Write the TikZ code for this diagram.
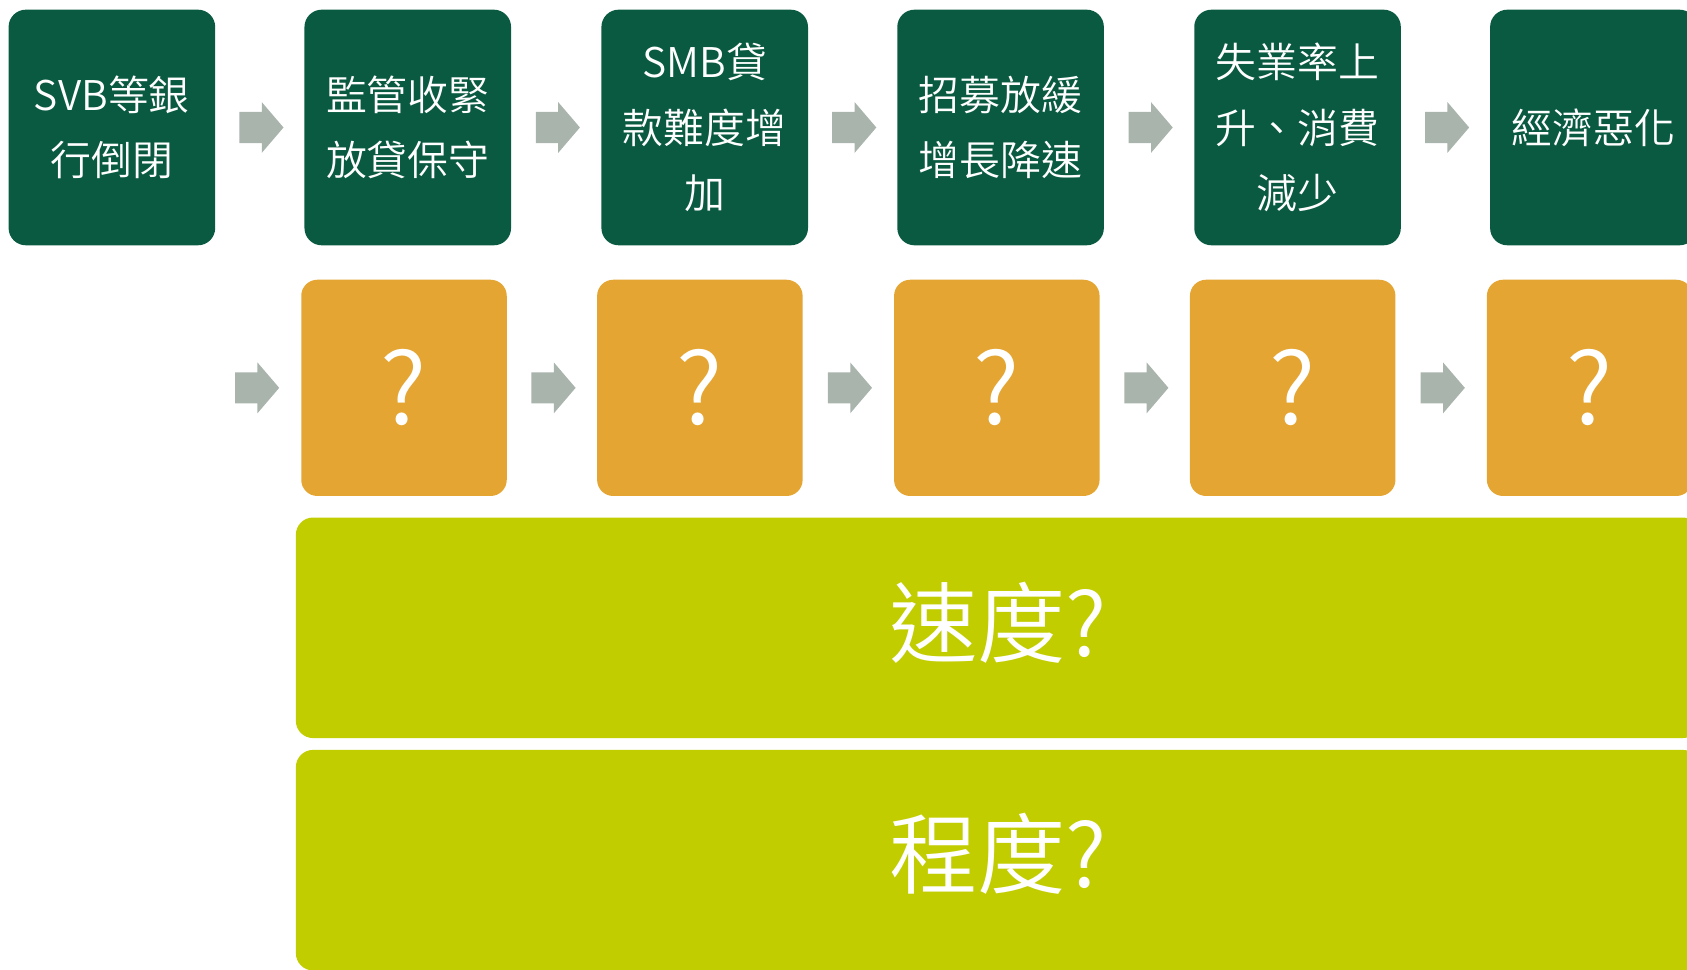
\documentclass[tikz,border=0pt]{standalone}
\usepackage{fontspec}
\IfFontExistsTF{Noto Sans CJK TC DemiLight}{\setmainfont{Noto Sans CJK TC DemiLight}}{\setmainfont{Noto Sans CJK TC}}
\usetikzlibrary{calc}
\definecolor{boxgreen}{HTML}{0A5A41}
\definecolor{boxorange}{HTML}{E4A532}
\definecolor{boxlime}{HTML}{C2CD00}
\definecolor{arrowgray}{HTML}{A9B4AD}
\tikzset{
  greenbox/.style={rectangle, fill=boxgreen, rounded corners=16pt, minimum width=192pt, minimum height=219pt, inner sep=0pt, text=white, align=center, font=\fontsize{38}{61}\selectfont},
  orangebox/.style={rectangle, fill=boxorange, rounded corners=15pt, minimum width=191pt, minimum height=201pt, inner sep=0pt, text=white, font=\fontsize{92}{92}\selectfont},
  limebox/.style={rectangle, fill=boxlime, rounded corners=16pt, minimum width=1305pt, minimum height=205pt, inner sep=0pt},
  limetext/.style={text=white, inner sep=0pt, font=\fontsize{82}{82}\selectfont},
  flowarrow/.pic={\fill[arrowgray] (-20.5,-14.5) -- (0.3,-14.5) -- (0.3,-23.6) -- (20.5,0) -- (0.3,23.6) -- (0.3,14.5) -- (-20.5,14.5) -- cycle;}
}
\begin{document}
\begin{tikzpicture}[x=1pt,y=-1pt]
\useasboundingbox (0,0) rectangle (1568,901);
\clip (0,0) rectangle (1568,901);
% top row
\node[greenbox] (g1) at (104,118.5) {SVB等銀\\行倒閉};
\node[greenbox] (g2) at (379,118.5) {監管收緊\\放貸保守};
\node[greenbox] (g3) at (655,118.5) {SMB貸\\款難度增\\加};
\node[greenbox] (g4) at (930,118.5) {招募放緩\\增長降速};
\node[greenbox] (g5) at (1206,118.5) {失業率上\\升、消費\\減少};
\node[greenbox] (g6) at (1481,118.5) {經濟惡化};
% middle row
\node[orangebox] (o1) at (375.5,360.5) {?};
\node[orangebox] (o2) at (650.5,360.5) {?};
\node[orangebox] (o3) at (926.5,360.5) {?};
\node[orangebox] (o4) at (1201.5,360.5) {?};
\node[orangebox] (o5) at (1477.5,360.5) {?};
\coordinate (ostart) at (g1.east |- o1.west);
% bottom bars
\node[limebox] (speed) at (927.5,583.5) {};
\node[limebox] (degree) at (927.5,799.5) {};
\node[limetext] (speedtext) at ($(speed.center)+(0,-5)$) {速度?};
\node[limetext] (degreetext) at ($(degree.center)+(0,-6)$) {程度?};
% arrows
\foreach \a/\b in {g1/g2,g2/g3,g3/g4,g4/g5,g5/g6,o1/o2,o2/o3,o3/o4,o4/o5}
  \path ($(\a.east)!0.5!(\b.west)$) ++(1.5,0) pic{flowarrow};
\path ($(ostart)!0.5!(o1.west)$) ++(-1,0) pic{flowarrow};
\end{tikzpicture}
\end{document}
